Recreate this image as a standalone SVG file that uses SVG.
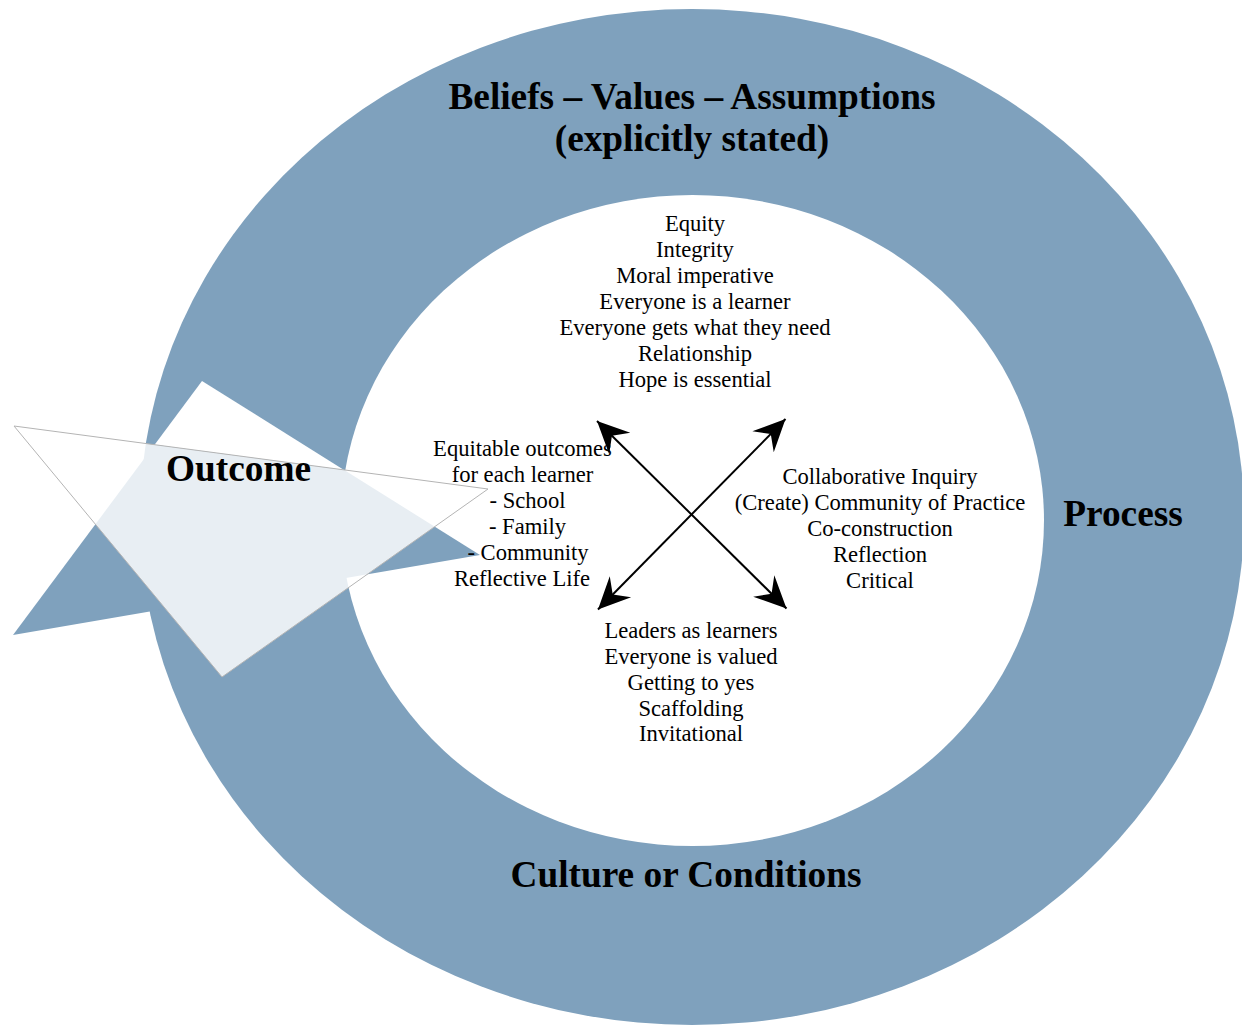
<svg xmlns="http://www.w3.org/2000/svg" width="1242" height="1026" viewBox="0 0 1242 1026">
<style>
.body{font-family:"Liberation Serif","Times New Roman",serif;font-size:22.6px;fill:#000;text-anchor:middle}
.head{font-family:"Liberation Serif","Times New Roman",serif;font-size:37.3px;font-weight:bold;fill:#000;text-anchor:middle}
.blue{fill:#7fa1bd}
.conn{stroke:#000;stroke-width:2;fill:none;marker-start:url(#ah);marker-end:url(#ah)}
</style>
<defs>
<marker id="ah" markerUnits="userSpaceOnUse" orient="auto-start-reverse" refX="0" refY="0" markerWidth="40" markerHeight="40" viewBox="-35 -20 40 40" overflow="visible">
<path d="M0,0 L-32,-15 L-21,0 L-32,15 Z" fill="#000"/>
</marker>
</defs>
<rect width="1242" height="1026" fill="#fff"/>
<g id="ring">
<ellipse class="blue" cx="692" cy="517" rx="552" ry="508"/>
<ellipse cx="692.5" cy="520.5" rx="351.5" ry="325.5" fill="#fff"/>
<polygon class="blue" points="202,381 13,635 480,555"/>
<polygon fill="#fff" points="202,381 154.6,444.7 344,469.9"/>
<text class="head" x="692" y="109">Beliefs – Values – Assumptions</text>
<text class="head" x="692" y="151">(explicitly stated)</text>
<text class="head" x="1123" y="526">Process</text>
<text class="head" x="686" y="887">Culture or Conditions</text>
</g>
<g id="outcome">
<polygon points="14,426 488,489 222,677" fill="#fff" fill-opacity="0.82" stroke="#b4b4b4" stroke-width="1"/>
<text class="head" x="238.5" y="481">Outcome</text>
</g>
<g id="connectors">
<line class="conn" x1="597" y1="421" x2="786.5" y2="608.5"/>
<line class="conn" x1="598" y1="609.5" x2="785.5" y2="419"/>
</g>
<g id="beliefs">
<text class="body" x="695" y="231">Equity</text>
<text class="body" x="695" y="257">Integrity</text>
<text class="body" x="695" y="283">Moral imperative</text>
<text class="body" x="695" y="309">Everyone is a learner</text>
<text class="body" x="695" y="335">Everyone gets what they need</text>
<text class="body" x="695" y="361">Relationship</text>
<text class="body" x="695" y="387">Hope is essential</text>
</g>
<g id="outcomes">
<text class="body" x="522.5" y="456">Equitable outcomes</text>
<text class="body" x="522.5" y="482">for each learner</text>
<text class="body" x="527.5" y="508">- School</text>
<text class="body" x="527.5" y="534">- Family</text>
<text class="body" x="528" y="560">- Community</text>
<text class="body" x="522" y="586">Reflective Life</text>
</g>
<g id="process">
<text class="body" x="880" y="483.5">Collaborative Inquiry</text>
<text class="body" x="880" y="509.5">(Create) Community of Practice</text>
<text class="body" x="880" y="535.5">Co-construction</text>
<text class="body" x="880" y="561.5">Reflection</text>
<text class="body" x="880" y="587.5">Critical</text>
</g>
<g id="culture">
<text class="body" x="691" y="637.5">Leaders as learners</text>
<text class="body" x="691" y="663.5">Everyone is valued</text>
<text class="body" x="691" y="689.5">Getting to yes</text>
<text class="body" x="691" y="715.5">Scaffolding</text>
<text class="body" x="691" y="741">Invitational</text>
</g>
</svg>
